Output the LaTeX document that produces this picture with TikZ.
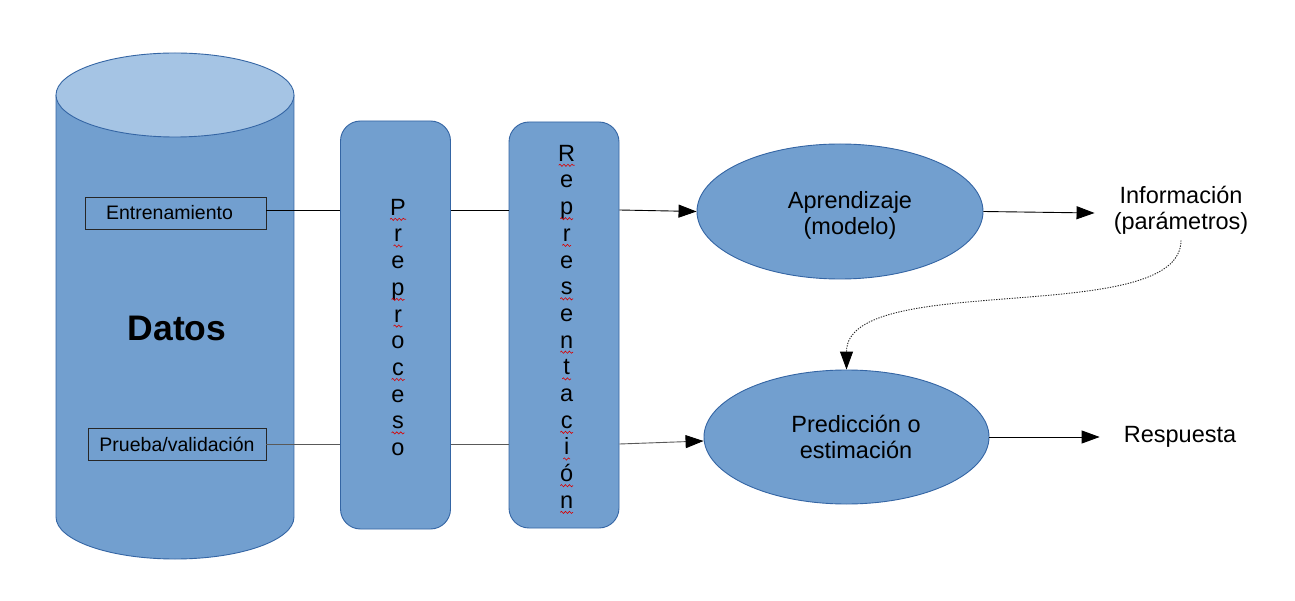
\documentclass[tikz,border=0pt]{standalone}
\usepackage{fontspec}
\setmainfont{Liberation Sans}
\usetikzlibrary{arrows.meta,shapes.geometric,decorations.pathmorphing}
\definecolor{bodyblue}{HTML}{729FCF}
\definecolor{topblue}{HTML}{A5C4E4}
\definecolor{edgeblue}{HTML}{3465A4}
\begin{document}
\begin{tikzpicture}[x=1pt,y=-1pt,
  conn/.style={line width=0.9pt, black},
  conngray/.style={line width=0.9pt, black!65},
  arr/.style={conn, -{Triangle[length=18pt,width=13pt]}},
  arrgray/.style={conngray, -{Triangle[length=18pt,width=13pt,fill=black,color=black]}},
  dotconn/.style={line width=0.9pt, black!85, dash pattern=on 1.3pt off 1.3pt, -{Triangle[length=18pt,width=13pt,fill=black,color=black]}},
  labelbox/.style={rectangle, draw=black!85, line width=0.9pt, fill=bodyblue, inner sep=0pt, font=\fontsize{19.5pt}{23pt}\selectfont},
  stagebox/.style={rectangle, draw=edgeblue, fill=bodyblue, line width=0.9pt, rounded corners=20pt, minimum width=110pt, inner sep=0pt},
  blob/.style={ellipse, draw=edgeblue, fill=bodyblue, line width=0.9pt, inner sep=0pt},
  bigtext/.style={font=\fontsize{23.5pt}{26pt}\selectfont, align=center, inner sep=0pt},
  vtext/.style={font=\fontsize{23.5pt}{26.7pt}\selectfont, align=center, inner sep=0pt, anchor=north},
  squig/.style={red!85!black, line width=0.6pt, decorate, decoration={snake, segment length=4pt, amplitude=1.1pt}}
]
\fill[white] (0,0) rectangle (1295,601);
\useasboundingbox (0,0) rectangle (1295,601);

% cylinder "Datos"
\fill[bodyblue] (56,95) rectangle (294,517);
\fill[bodyblue] (175,517) ellipse [x radius=119pt, y radius=42pt];
\draw[edgeblue, line width=0.9pt] (56,95) -- (56,517) arc[start angle=180, end angle=360, x radius=119pt, y radius=42pt] -- (294,95);
\draw[edgeblue, fill=topblue, line width=0.9pt] (175,95) ellipse [x radius=119pt, y radius=42pt];

\node[font=\bfseries\fontsize{35.5pt}{40pt}\selectfont, inner sep=0pt] (datos) at (177,328) {Datos};
\node[labelbox, minimum width=181pt, minimum height=32pt] (entr) at (175.5,213) {Entrenamiento\hspace*{12pt}};
\node[labelbox, minimum width=178pt, minimum height=32pt] (prue) at (177,444) {Prueba/validación};

% stages
\node[stagebox, minimum height=408pt] (prep) at (395.5,325) {};
\node[stagebox, minimum height=406pt] (rep) at (564,325) {};
\node[vtext] (prept) at (398,198.9) {P\\r\\e\\p\\r\\o\\c\\e\\s\\o};
\node[vtext] (rept) at (566.7,144.9) {R\\e\\p\\r\\e\\s\\e\\n\\t\\a\\c\\i\\ó\\n};

% spell-check squiggles
\foreach \k/\w in {1/16,2/9,4/13,5/9,7/13,9/13}
  \draw[squig] ({398-\w/2},{216+26.7*(\k-1)+3.3}) -- ++(\w,0);
\foreach \k/\w in {1/16,3/13,4/9,6/13,8/13,9/9,11/13,12/7,13/13,14/13}
  \draw[squig] ({566.7-\w/2},{162+26.7*(\k-1)+3.3}) -- ++(\w,0);

% ellipses
\node[blob, minimum width=286pt, minimum height=135pt] (apr) at (840,211.5) {};
\node[bigtext] (aprt) at ([xshift=10pt,yshift=-4pt]apr.center) {Aprendizaje\\(modelo)};
\node[blob, minimum width=285pt, minimum height=134pt] (pred) at (846.5,437) {};
\node[bigtext] (predt) at ([xshift=9.5pt]pred.center) {Predicción o\\estimación};

% outputs
\node[bigtext] (info) at (1181,210) {Información\\(parámetros)};
\node[bigtext] (resp) at (1180,437) {Respuesta};

% connectors upper
\draw[conn] ([yshift=3pt]entr.east) -- ([yshift=3pt]entr.east -| prep.west);
\draw[conn] ([yshift=3pt]entr.east -| prep.east) -- ([yshift=3pt]entr.east -| rep.west);
\draw[arr] ([yshift=3pt]entr.east -| rep.east) -- (apr.west);
\draw[arr] (apr.east) -- ([xshift=-19pt,yshift=-3pt]info.west);

% connectors lower
\draw[conngray] (prue.east) -- (prue.east -| prep.west);
\draw[conngray] (prue.east -| prep.east) -- (prue.east -| rep.west);
\draw[arrgray] (prue.east -| rep.east) -- ([yshift=-4pt]pred.west);
\draw[arr] (pred.east) -- ([xshift=-24pt]resp.west |- pred.east);

% dotted feedback
\draw[dotconn] ([yshift=-6pt]info.south) .. controls +(0,88) and +(0,-100) .. (pred.north);
\end{tikzpicture}
\end{document}
